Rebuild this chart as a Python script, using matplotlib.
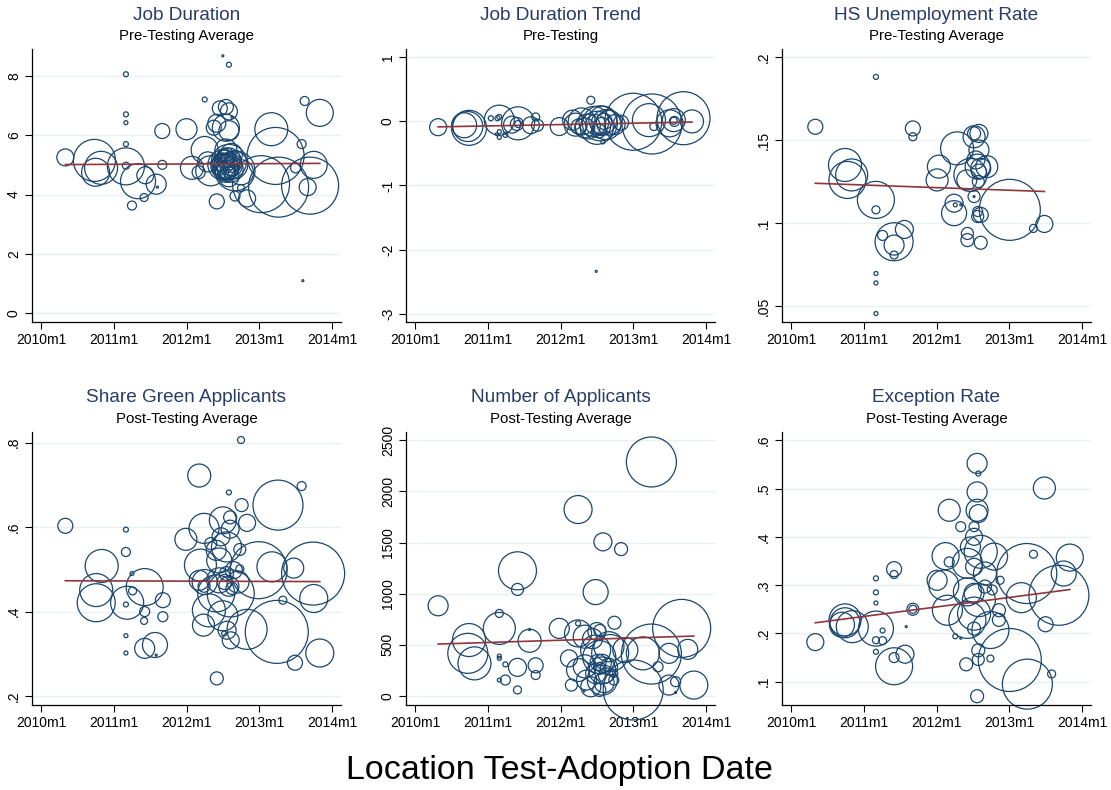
import matplotlib
matplotlib.use("Agg")
import matplotlib.pyplot as plt
import numpy as np

plt.rcParams['font.family'] = ['Liberation Sans', 'DejaVu Sans']
plt.rcParams['axes.unicode_minus'] = False

# ---- data: x = Stata monthly date (2010m1 = 600), y = value, w = bubble weight ----
jd_x = [604, 608.8, 609.9, 609, 614, 614, 614, 614, 614, 614, 615, 616, 617.2, 617, 619, 619.2, 620, 620, 624, 627,
        630, 631, 624.9, 626, 627, 627.5, 628, 628.5, 629, 629.5, 630.5, 631, 631, 630.5, 631.5, 629, 630.5, 630, 630.5, 631,
        631.5, 630.8, 631.2, 630.3, 631.8, 632, 629.5, 632, 633, 633, 634, 638, 636.3, 638.7, 639.2, 644.4, 643, 646, 643.5, 644,
        645, 642, 643.2,
        630.2, 630.6, 631.0, 631.4, 630.0, 630.8, 631.6, 630.4, 631.2, 630.6, 631.0, 630.2, 631.8, 629.8, 631.4]
jd_y = [5.25, 5.15, 4.9, 4.75, 4.95, 8.05, 6.7, 6.42, 5.7, 4.97, 3.63, 4.45, 4.65, 3.9, 4.35, 4.25, 6.14, 5.0, 6.2, 7.2,
        8.67, 8.37, 4.9, 4.75, 5.5, 5.1, 4.8, 6.25, 6.4, 6.9, 6.95, 6.8, 6.15, 6.25, 6.6, 3.77, 5.5, 5.0, 4.9, 5.1,
        4.95, 4.7, 5.25, 5.2, 5.0, 4.8, 4.9, 3.95, 4.22, 4.75, 3.87, 6.2, 4.35, 5.3, 4.25, 4.3, 5.7, 6.75, 7.15, 4.25,
        5.0, 4.9, 1.1,
        5.05, 4.85, 5.2, 4.9, 4.95, 5.15, 5.05, 4.75, 4.85, 5.3, 4.6, 5.35, 5.2, 5.1, 5.35]
jd_w = [17, 42, 33, 28, 37, 5, 5, 4, 5, 7, 9, 35, 17, 8, 20, 2, 15, 9, 21, 5,
        2, 5, 23, 13, 27, 20, 30, 15, 18, 15, 15, 17, 20, 27, 2, 15, 22, 30, 25, 35,
        20, 15, 12, 18, 28, 40, 15, 10, 7, 25, 17, 33, 57, 57, 60, 57, 9, 27, 9, 17,
        27, 10, 2,
        20, 18, 22, 16, 24, 14, 18, 20, 26, 16, 20, 12, 14, 18, 22]

jt_x = [603.8, 608.7, 608.9, 608.1, 613.9, 613.9, 613.6, 613.9, 613.9, 614.9, 617, 616.8, 617, 619.1, 619.9, 620.2,
        623.8, 626, 626.5, 627.5, 628, 629, 628.5, 629.5, 630, 630.5, 631, 631.5, 632, 629.8, 630.8, 631.2, 630.3, 631,
        629.9, 636, 639.1, 638.6, 639.4, 642.7, 644.3, 642.7, 642.8, 645.7, 642, 633, 634, 627, 612.5, 613.5, 616]
jt_y = [-0.09, -0.08, -0.10, -0.06, 0.02, 0.07, 0.05, -0.16, -0.25, -0.21, -0.03, -0.04, -0.04, -0.06, 0.07, -0.06,
        -0.08, 0.02, -0.05, 0.0, -0.1, 0.33, -0.08, 0.0, -0.1, -0.03, 0.02, -0.05, -0.02, -0.05, -0.08, 0.0, -0.15, -0.32,
        -2.34, -0.005, -0.04, 0.02, -0.08, 0.02, 0.05, 0.01, 0.0, 0.0, -0.03, -0.05, -0.02, -0.08, 0.05, -0.2, -0.05]
jt_w = [17, 30, 35, 25, 30, 5, 5, 4, 4, 5, 33, 13, 7, 17, 8, 12,
        18, 20, 23, 27, 20, 8, 25, 30, 33, 35, 28, 30, 25, 20, 18, 16, 14, 4,
        2, 57, 60, 33, 8, 23, 53, 7, 10, 23, 27, 20, 15, 15, 5, 3, 17]

hs_x = [604, 608.9, 609.3, 610, 614, 614, 614, 614, 614, 614, 615.1, 617, 617, 617, 618.7, 620.1, 620.1, 624.1, 624.4,
        627.4, 626.9, 626.9, 627.1, 628, 629.1, 629.1, 630.2, 630.2, 631, 631, 629.6, 629, 630.2, 630.2, 630.8, 631.3,
        632.3, 630.9, 630.8, 631.3, 630.8, 631.3, 636.1, 640, 641.8, 631, 630.5]
hs_y = [.158, .135, .126, .129, .188, .108, .0697, .064, .0456, .114, .0926, .0888, .0868, .0808, .0962, .157, .152,
        .126, .134, .145, .112, .106, .111, .111, .0898, .0938, .152, .154, .154, .144, .129, .126, .116, .116, .134,
        .133, .134, .125, .104, .105, .107, .0882, .108, .0968, .0995, .131, .138]
hs_w = [15, 33, 37, 32, 5, 8, 4, 4, 4, 37, 10, 38, 20, 8, 18, 15, 8, 22, 23, 33, 18, 25, 4, 2, 13, 12, 22, 13, 18,
        20, 33, 20, 12, 2, 25, 20, 22, 12, 12, 15, 10, 13, 61, 8, 17, 15, 18]

sg_x = [604, 610, 609.1, 609.1, 614, 614, 615, 614, 614, 614, 614.2, 615.1, 617.1, 617.1, 617, 617.1, 618.8, 619,
        620.1, 620.1, 623.9, 626.1, 626.1, 626.9, 626.9, 626.3, 626.8, 627.7, 628, 629, 628.9, 629.4, 630, 629.7,
        628.9, 629.4, 631, 630.6, 631.2, 631.2, 631.8, 631.3, 630.7, 630.2, 631.3, 633.1, 633, 632.8, 632.8, 634, 634,
        635.9, 638.1, 638.9, 639.1, 639.9, 641.7, 641.9, 643, 644.9, 645, 646,
        630.3, 631, 630.6, 631.5, 632.5, 630, 627]
sg_y = [.603, .508, .451, .421, .594, .541, .49, .417, .343, .302, .421, .449, .458, .40, .378, .313, .321, .297,
        .427, .388, .571, .722, .474, .46, .597, .51, .368, .403, .561, .242, .545, .521, .616, .577,
        .443, .474, .682, .553, .595, .623, .498, .332, .356, .348, .443, .652, .806, .501, .547, .61, .358,
        .498, .506, .352, .652, .427, .503, .279, .697, .49, .431, .302,
        .47, .46, .49, .455, .47, .39, .47]
sg_w = [15, 33, 33, 38, 5, 9, 4, 5, 4, 4, 33, 8, 37, 10, 7, 20, 25, 2,
        15, 10, 22, 23, 20, 12, 30, 32, 22, 33, 12, 13, 20, 25, 27, 18,
        37, 25, 5, 30, 18, 13, 17, 17, 18, 5, 47, 13, 7, 8, 12, 17, 40,
        57, 30, 63, 50, 8, 20, 15, 9, 63, 28, 28,
        15, 20, 14, 12, 22, 30, 25]

na_x = [603.8, 608.9, 608.7, 609.8, 613.9, 613.9, 613.9, 613.9, 613.9, 614.9, 614.9, 616.9, 616.9, 616.9, 616.9,
        618.9, 618.9, 619.9, 619.9, 623.8, 625.8, 626.9, 626.9, 625.4, 626.9, 626.9, 628, 627.9, 629.8, 631, 634,
        632.9, 628, 629.8, 628.3, 629, 629.8, 630.9, 630.9, 630.9, 630.4, 632, 632, 632.8, 632.8, 630.4, 632.2,
        630.5, 630, 629.3, 634.7, 636, 639, 639, 637.6, 640.1, 641.9, 641.9, 643, 643, 644, 645, 646,
        631.5, 630.5, 631.2, 630.2]
na_y = [882, 547, 417, 319, 661, 807, 390, 368, 156, 309, 156, 1224, 1042, 280, 59,
        540, 650, 300, 205, 661, 107, 1823, 710, 368, 612, 254, 290, 50, 1016, 1507, 1436,
        716, 580, 449, 156, 90, 220, 320, 250, 156, 380, 482, 286, 156, 221, 59, 420,
        640, 630, 560, 449, 59, 2288, 410, 417, 286, 107, 417, 140, 35, 661, 456, 107,
        200, 270, 130, 330]
na_w = [20, 33, 40, 33, 32, 8, 4, 4, 4, 5, 10, 38, 12, 18, 8,
        23, 2, 15, 9, 20, 12, 28, 5, 17, 27, 23, 23, 2, 25, 18, 13,
        13, 23, 30, 20, 20, 20, 18, 27, 30, 33, 30, 17, 10, 8, 13, 37,
        12, 18, 20, 25, 60, 50, 60, 33, 10, 20, 20, 10, 2, 58, 20, 28,
        15, 12, 20, 16]

ex_x = [604, 608.9, 608.9, 610.1, 608.4, 614, 614, 614, 614, 614, 614, 615.1, 615.1, 617, 617, 617, 617, 618.8,
        620.1, 620.1, 619, 624.1, 626.1, 625.5, 626.1, 625.2, 625.8, 627.1, 628, 628, 629.1, 629.1, 628.9, 629.1,
        629.6, 630.2, 630.2, 630.2, 630.2, 630.2, 630.2, 630.7, 630.9, 630.7, 630.9, 630.7, 630.9, 630.9, 630.7,
        631.3, 631, 632, 632, 632.9, 632.9, 633.5, 634.3, 634.3, 634.5, 633.2, 636.1, 639, 638.9, 640, 638, 641.8,
        642, 643, 644.2, 645, 646]
ex_y = [.182, .228, .222, .214, .218, .21, .314, .285, .263, .186, .162, .206, .185, .333, .322, .132, .15, .157,
        .25, .25, .214, .31, .455, .36, .348, .3, .248, .194, .19, .421, .286, .228, .136, .345,
        .379, .4, .421, .338, .283, .241, .21, .552, .531, .493, .448, .455, .165, .146, .07,
        .369, .269, .324, .297, .207, .148, .359, .248, .228, .31, .29, .145, .095, .324, .364, .274, .501,
        .219, .116, .279, .324, .357]
ex_w = [17, 32, 30, 32, 25, 35, 5, 5, 4, 7, 5, 5, 8, 15, 8, 37, 10, 18,
        12, 8, 2, 20, 22, 27, 10, 30, 30, 5, 2, 10, 28, 37, 13, 30,
        20, 17, 10, 17, 20, 33, 13, 20, 5, 20, 18, 22, 13, 12, 13,
        33, 33, 23, 13, 37, 7, 27, 13, 13, 8, 10, 63, 50, 60, 8, 30, 22,
        15, 8, 60, 25, 27]

# weighted linear fit: y = a + b * (x - 600)
fit_a = [5.006, -0.0918, 0.12452, 0.4732, 500.98, 0.21544]
fit_b = [0.00095, 0.00178, -0.000131, -0.0000476, 1.848, 0.001639]

titles = ["Job Duration", "Job Duration Trend", "HS Unemployment Rate",
          "Share Green Applicants", "Number of Applicants", "Exception Rate"]
subtitles = ["Pre-Testing Average", "Pre-Testing", "Pre-Testing Average",
             "Post-Testing Average", "Post-Testing Average", "Post-Testing Average"]
yticks = [[0, 2, 4, 6, 8], [-3, -2, -1, 0, 1], [.05, .1, .15, .2],
          [.2, .4, .6, .8], [0, 500, 1000, 1500, 2000, 2500], [.1, .2, .3, .4, .5, .6]]
yticklabels = [["0", "2", "4", "6", "8"], ["-3", "-2", "-1", "0", "1"], [".05", ".1", ".15", ".2"],
               [".2", ".4", ".6", ".8"], ["0", "500", "1000", "1500", "2000", "2500"],
               [".1", ".2", ".3", ".4", ".5", ".6"]]
ylims = [(-0.29, 8.9), (-3.13, 1.13), (0.0405, 0.2048), (0.179, 0.825), (-88, 2581), (0.0518, 0.617)]
xticks = [600, 612, 624, 636, 648]
xticklabels = ["2010m1", "2011m1", "2012m1", "2013m1", "2014m1"]
xlabel = "Location Test-Adoption Date"

xs = [jd_x, jt_x, hs_x, sg_x, na_x, ex_x]
ys = [jd_y, jt_y, hs_y, sg_y, na_y, ex_y]
ws = [jd_w, jt_w, hs_w, sg_w, na_w, ex_w]

NAVY = '#1a476f'
RED = '#90353b'
TITLE_C = '#283c66'
GRID_C = '#e8f0f2'

W, H = 1111, 790
fig = plt.figure(figsize=(W / 100, H / 100), dpi=100)

lefts = [32, 406, 782]
axw = 309
tops = [49, 432]
axh = 273

for i in range(6):
    r, c = divmod(i, 3)
    l = lefts[c]
    t = tops[r]
    ax = fig.add_axes([l / W, 1 - (t + axh) / H, axw / W, axh / H])
    x = np.array(xs[i], dtype=float)
    y = np.array(ys[i], dtype=float)
    w = np.array(ws[i], dtype=float)
    s = (w * 0.72) ** 2
    ax.set_axisbelow(True)
    for yt in yticks[i]:
        ax.axhline(yt, color=GRID_C, lw=1.0, zorder=0)
    ax.scatter(x, y, s=s, facecolors='none', edgecolors=NAVY, linewidths=0.9, zorder=2, clip_on=False)
    xl = np.array([x.min(), x.max()])
    ax.plot(xl, fit_a[i] + fit_b[i] * (xl - 600), color=RED, lw=1.2, zorder=3)
    ax.set_xlim(598.5, 649.5)
    ax.set_ylim(*ylims[i])
    ax.set_xticks(xticks)
    ax.set_xticklabels(xticklabels, fontsize=10)
    ax.set_yticks(yticks[i])
    ax.set_yticklabels(yticklabels[i], fontsize=10, rotation=90, va='center')
    ax.tick_params(axis='both', length=5, width=0.8, color='black', pad=3)
    for sp in ['top', 'right']:
        ax.spines[sp].set_visible(False)
    for sp in ['left', 'bottom']:
        ax.spines[sp].set_linewidth(0.9)
    cx = (l + axw / 2) / W
    ty = 15 if r == 0 else 397
    sy = 36 if r == 0 else 419
    fig.text(cx, 1 - ty / H, titles[i], ha='center', va='center', fontsize=13.7, color=TITLE_C)
    fig.text(cx, 1 - sy / H, subtitles[i], ha='center', va='center', fontsize=10.8, color='black')

fig.text(560 / W, 1 - 770 / H, xlabel, ha='center', va='center', fontsize=24.5, color='black')

fig.savefig('out.png', dpi=100, facecolor='white')
